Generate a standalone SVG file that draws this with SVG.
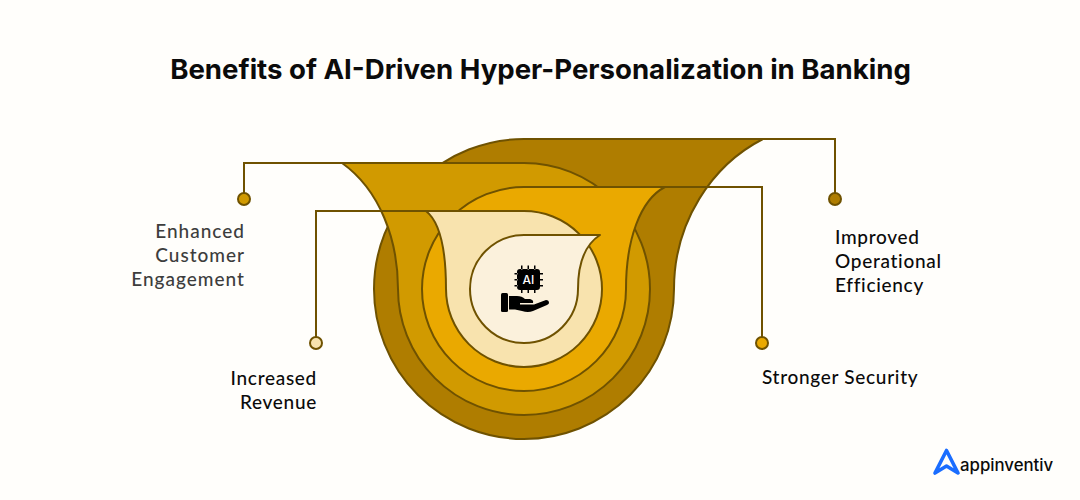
<svg xmlns="http://www.w3.org/2000/svg" width="1080" height="500" viewBox="0 0 1080 500">
<style>
.s{stroke:#6F5200;stroke-width:2;stroke-linejoin:round}
.c{fill:none;stroke:#6F5200;stroke-width:2}
text{font-family:"Lato","Liberation Sans",sans-serif;font-size:19px;font-weight:500;fill:#0b0b0b;letter-spacing:.7px}
</style>
<rect width="1080" height="500" fill="#FFFEFB"/>
<text x="540.500" y="79" text-anchor="middle" style="font-family:'Inter','Liberation Sans',sans-serif;font-size:27.600px;font-weight:700;letter-spacing:0" fill="#000">Benefits of AI-Driven Hyper-Personalization in Banking</text>
<g id="node-efficiency"><path class="s" fill="#AF7D00" d="M524 139H763C712 165 674 222 674 289A150 150 0 1 1 524 139Z"/></g>
<g id="node-engagement"><path class="s" fill="#D19A00" d="M524 163H342C380 190 398 240 398 289A126 126 0 1 0 524 163Z"/></g>
<g id="node-security"><path class="s" fill="#EAA900" d="M524 187H665C640 200 626 240 626 289A102 102 0 1 1 524 187Z"/></g>
<g id="node-revenue"><path class="s" fill="#F8E3AE" d="M524 211H426C440 222 446 250 446 289A78 78 0 1 0 524 211Z"/></g>
<g id="node-core"><path class="s" fill="#FBF1DC" d="M524 235H600C586 244 578 262 578 289A54 54 0 1 1 524 235Z"/>
<path fill="#000" d="M520 269Q517 269 517 272V287Q517 290 520 290H537Q540 290 540 287V272Q540 269 537 269ZM521 265.500h1.500v4h-1.500ZM527.500 265.500h1.500v4h-1.500ZM534 265.500h1.500v4h-1.500ZM521 290h1.500v3h-1.500ZM527.500 290h1.500v3h-1.500ZM534 290h1.500v3h-1.500ZM514.500 273h3v1.500h-3ZM514.500 279h3v1.500h-3ZM514.500 285h3v1.500h-3ZM540 273h3v1.500h-3ZM540 279h3v1.500h-3ZM540 285h3v1.500h-3Z"/>
<text x="528.500" y="284.300" text-anchor="middle" style="font-family:'Inter','Liberation Sans',sans-serif;font-size:12px;font-weight:500;fill:#fff;letter-spacing:0">AI</text>
<rect x="501" y="293" width="7" height="19" rx="1.500" fill="#000"/>
<path fill="#000" d="M509 296H517Q522 296 525 299H530Q534 300 533 303H520V304.500H534L546 300Q549 300 549 303Q549 304 547 305L533 311Q528 313 522 311L515 309.500H509Z"/>
</g>
<g id="connectors">
<path class="c" d="M342 163H244V199"/>
<path class="c" d="M426 211H316V343"/>
<path class="c" d="M763 139H835V199"/>
<path class="c" d="M665 187H762V343"/>
<circle class="s" cx="244" cy="199" r="6" fill="#D19A00"/>
<circle class="s" cx="316" cy="343" r="6" fill="#F8E3AE"/>
<circle class="s" cx="835" cy="199" r="6" fill="#AF7D00"/>
<circle class="s" cx="762" cy="343" r="6" fill="#EAA900"/>
</g>
<g id="label-engagement" text-anchor="end">
<text x="245" y="238" style="fill:#3d3d3d;letter-spacing:1px">Enhanced</text><text x="245" y="262" style="fill:#3d3d3d;letter-spacing:1px">Customer</text><text x="245" y="286" style="fill:#3d3d3d;letter-spacing:1px">Engagement</text></g>
<g id="label-revenue" text-anchor="end"><text x="317" y="385">Increased</text><text x="317" y="409">Revenue</text></g>
<g id="label-efficiency"><text x="835" y="244">Improved</text><text x="835" y="268">Operational</text><text x="835" y="292">Efficiency</text></g>
<g id="label-security"><text x="762" y="384">Stronger Security</text></g>
<g id="logo"><path fill="none" stroke="#1A6DFF" stroke-width="3.600" stroke-linejoin="round" d="M946.500 450.500L958 473L946.500 466L935 473Z"/>
<text x="960" y="471" style="font-family:'Inter','Liberation Sans',sans-serif;font-size:16.800px;font-weight:500;letter-spacing:0">appinventiv</text></g>
</svg>
